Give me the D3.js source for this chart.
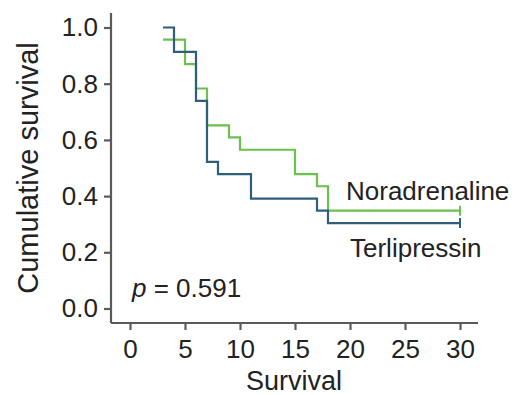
<!DOCTYPE html>
<html><head><meta charset="utf-8">
<script src="https://cdn.jsdelivr.net/npm/d3@7/dist/d3.min.js"></script>
<style>
body{margin:0;background:#fff;}
svg{display:block;font-family:"Liberation Sans",Arial,sans-serif;}
</style></head>
<body><svg id="c" width="516" height="395"></svg>
<script>
const xTicks = [0,5,10,15,20,25,30];
const yTicks = [0.0,0.2,0.4,0.6,0.8,1.0];
const terliTimes = [3,4,6,7,8,11,17,18,30];
const terliSurv  = [1.0,0.913,0.739,0.522,0.478,0.391,0.348,0.304,0.304];
const noraTimes  = [3,5,6,7,9,10,15,17,18,30];
const noraSurv   = [0.957,0.870,0.783,0.652,0.609,0.565,0.478,0.435,0.348,0.348];
const seriesNames = ["Noradrenaline","Terlipressin"];
const pText = "0.591";

const svg = d3.select("#c");
const x = d3.scaleLinear().domain([0,30]).range([130,460]);
const y = d3.scaleLinear().domain([0,1]).range([308.5,27.5]);
const axisColor = "#5a5a5a", textColor = "#222";
const axX = 111, axY = 323;

svg.append("line").attr("x1",axX).attr("x2",axX).attr("y1",13).attr("y2",axY)
  .attr("stroke",axisColor).attr("stroke-width",2.2);
svg.append("line").attr("x1",axX).attr("x2",478).attr("y1",axY).attr("y2",axY)
  .attr("stroke",axisColor).attr("stroke-width",2.2);

const gy = svg.append("g").attr("transform",`translate(${axX},0)`)
  .call(d3.axisLeft(y).tickValues(yTicks).tickFormat(d3.format(".1f")).tickSize(7).tickPadding(6));
const gx = svg.append("g").attr("transform",`translate(0,${axY})`)
  .call(d3.axisBottom(x).tickValues(xTicks).tickSize(7).tickPadding(10));
[gx,gy].forEach(g=>{
  g.select(".domain").remove();
  g.selectAll(".tick line").attr("stroke",axisColor).attr("stroke-width",2.2);
  g.selectAll(".tick text").attr("fill",textColor).style("font-size","26px").style("font-family","'Liberation Sans',Arial,sans-serif");
});

const line = d3.line().x(d=>x(d[0])).y(d=>y(d[1])).curve(d3.curveStepAfter);
const green = "#6cc04e", blue = "#2f5d7c";
function drawKM(times, surv, color){
  const pts = times.map((t,i)=>[t,surv[i]]);
  svg.append("path").datum(pts).attr("d",line).attr("fill","none")
    .attr("stroke",color).attr("stroke-width",2.2);
  const last = pts[pts.length-1];
  svg.append("line").attr("x1",x(last[0])).attr("x2",x(last[0]))
    .attr("y1",y(last[1])-5).attr("y2",y(last[1])+5).attr("stroke",color).attr("stroke-width",2);
}
drawKM(noraTimes, noraSurv, green);
drawKM(terliTimes, terliSurv, blue);

svg.append("text").attr("x",346).attr("y",200).attr("fill",textColor)
  .style("font-size","26px").text(seriesNames[0]);
svg.append("text").attr("x",350).attr("y",257).attr("fill",textColor)
  .style("font-size","26px").text(seriesNames[1]);

const pt = svg.append("text").attr("x",132).attr("y",297).attr("fill",textColor).style("font-size","26px");
pt.append("tspan").style("font-style","italic").text("p");
pt.append("tspan").text(" = " + pText);

svg.append("text").attr("transform","translate(38,168) rotate(-90)").attr("text-anchor","middle")
  .attr("fill",textColor).style("font-size","29px").text("Cumulative survival");
svg.append("text").attr("x",294).attr("y",390).attr("text-anchor","middle")
  .attr("fill",textColor).style("font-size","27px").text("Survival");
</script></body></html>
